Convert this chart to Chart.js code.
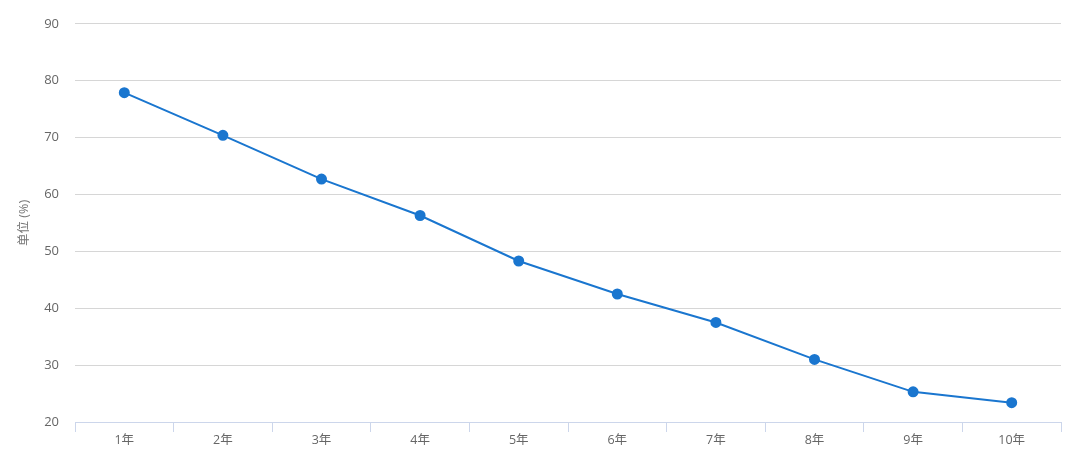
<!DOCTYPE html>
<html>
<head>
<meta charset="utf-8">
<script src="https://cdn.jsdelivr.net/npm/chart.js@4/dist/chart.umd.min.js"></script>
<style>
html,body{margin:0;padding:0;background:#fff;}
#wrap{width:1080px;height:459px;position:relative;}
</style>
</head>
<body>
<div id="wrap"><canvas id="c" width="1080" height="459"></canvas></div>
<script>
const categories = ["1年","2年","3年","4年","5年","6年","7年","8年","9年","10年"];
const values = [77.9, 70.4, 62.7, 56.3, 48.3, 42.5, 37.5, 31.0, 25.3, 23.4];
const yTitle = "单位 (%)";
const yMin = 20, yMax = 90, yStep = 10;

const FONT = "'Open Sans','Noto Sans CJK SC',sans-serif";

new Chart(document.getElementById('c'), {
  type: 'line',
  data: {
    labels: categories,
    datasets: [{
      data: values,
      borderColor: '#1a76cf',
      backgroundColor: '#1a76cf',
      pointBackgroundColor: '#1a76cf',
      pointBorderColor: '#1a76cf',
      borderWidth: 2,
      pointRadius: 4.5,
      pointHoverRadius: 5,
      tension: 0,
      fill: false
    }]
  },
  options: {
    responsive: false,
    animation: false,
    devicePixelRatio: 1,
    layout: { padding: { top: 17, right: 19, left: 0, bottom: 0 } },
    plugins: { legend: { display: false }, tooltip: { enabled: false } },
    scales: {
      x: {
        offset: true,
        grid: {
          offset: true,
          drawOnChartArea: false,
          drawTicks: true,
          tickLength: 10,
          color: '#ccd6eb'
        },
        border: { display: true, color: '#ccd6eb', width: 1 },
        ticks: { color: '#666666', font: { family: FONT, size: 12.5 }, padding: 1 },
        afterFit: s => { s.height = 37; }
      },
      y: {
        min: yMin, max: yMax,
        ticks: { stepSize: yStep, color: '#666666', font: { family: FONT, size: 13 }, padding: 16 },
        grid: { color: '#d6d6d6', drawTicks: false, lineWidth: 1 },
        border: { display: false },
        title: { display: true, text: yTitle, color: '#777777', font: { family: FONT, size: 12.5 }, padding: { top: 17, bottom: 0 } },
        afterFit: s => { s.width = 75; }
      }
    }
  }
});
</script>
</body>
</html>
